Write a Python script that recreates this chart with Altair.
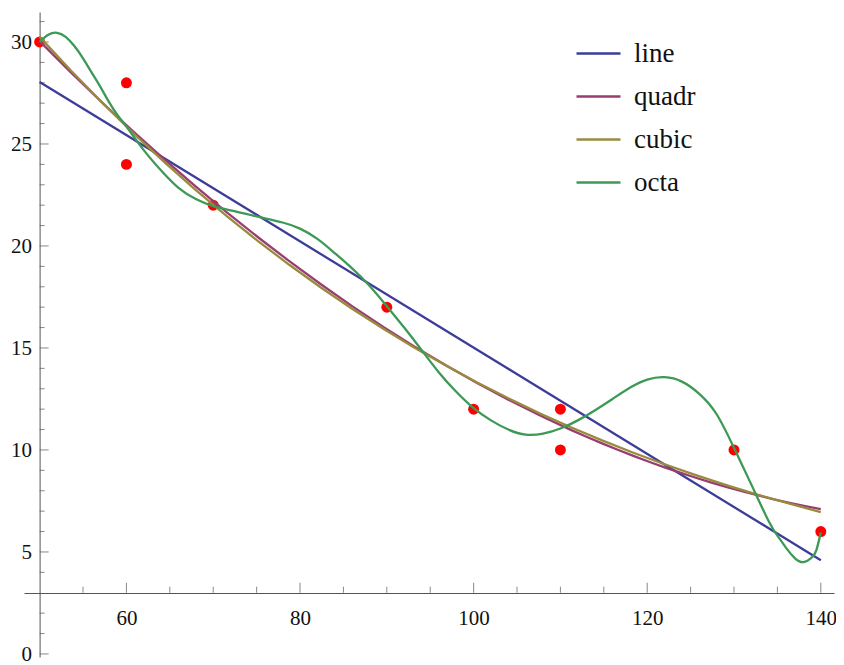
import altair as alt
import pandas as pd

# observed data points
xs = [50, 60, 60, 70, 90, 100, 110, 110, 130, 140]
ys = [30, 28, 24, 22, 17, 12, 12, 10, 10, 6]

# eighth-order fit
octa_x = [50, 51, 52, 53, 54, 55, 56, 57, 58, 59, 60, 62, 64, 66, 68, 70, 72, 75,
          78, 80, 82, 84, 86, 88, 90, 92, 94, 96, 98, 100, 102, 104, 106, 108,
          110, 112, 114, 116, 118, 120, 122, 124, 126, 128, 130, 132, 134, 135,
          136, 137, 138, 139, 139.5, 140]
octa_y = [30.0, 30.35, 30.45, 30.25, 29.8, 29.2, 28.5, 27.8, 27.05, 26.4, 25.85,
          24.7, 23.7, 22.85, 22.3, 21.95, 21.75, 21.45, 21.15, 20.85, 20.35, 19.65,
          18.9, 18.05, 17.05, 16.0, 14.9, 13.8, 12.85, 12.05, 11.45, 11.0, 10.75,
          10.8, 11.05, 11.45, 11.95, 12.5, 13.05, 13.45, 13.57, 13.35, 12.75, 11.75,
          10.1, 8.3, 6.5, 5.8, 5.2, 4.7, 4.5, 4.75, 5.1, 5.95]

series_names = ["line", "quadr", "cubic", "octa"]
series_colors = ["#3d3d99", "#993d71", "#998b3d", "#3d9956"]

x_major = [60, 80, 100, 120, 140]
x_minor = [55, 65, 70, 75, 85, 90, 95, 105, 110, 115, 125, 130, 135]
y_major = [0, 5, 10, 15, 20, 25, 30]
y_minor = [1, 2, 4, 6, 7, 8, 9, 11, 12, 13, 14, 16, 17, 18, 19,
           21, 22, 23, 24, 26, 27, 28, 29, 31]
axis_cross_y = 3
axis_cross_x = 50

FONT = "Liberation Serif, Times New Roman, DejaVu Serif, serif"
AX = "#555555"

pts = pd.DataFrame({"x": xs, "y": ys})
octa = pd.DataFrame({"x": octa_x, "y": octa_y, "series": "octa"})

xscale = alt.Scale(domain=[48.2, 141.52], nice=False, zero=False)
yscale = alt.Scale(domain=[-0.15, 31.47], nice=False, zero=False)

xaxis = alt.Axis(title=None, orient="bottom", offset=-64, ticks=False, tickSize=0,
                 values=x_major, labelFont=FONT, labelFontSize=21, labelColor="#111",
                 labelPadding=14, domainColor=AX, domainWidth=1, grid=False,
                 labelFlush=False)
yaxis = alt.Axis(title=None, orient="left", offset=-15.6, ticks=False, tickSize=0,
                 values=y_major, labelFont=FONT, labelFontSize=21, labelColor="#111",
                 labelPadding=8, labelOffset=1, domainColor=AX, domainWidth=1,
                 grid=False, labelFlush=False)

X = alt.X("x:Q", scale=xscale, axis=xaxis)
Y = alt.Y("y:Q", scale=yscale, axis=yaxis)

color_scale = alt.Scale(domain=series_names, range=series_colors)
legend = alt.Legend(title=None, orient="none", legendX=551, legendY=18,
                    direction="vertical", symbolType="stroke", symbolSize=1936,
                    symbolStrokeWidth=2.5, labelFont=FONT, labelFontSize=27,
                    labelColor="#111", labelOffset=12, rowPadding=6, padding=0)
C = alt.Color("series:N", scale=color_scale, legend=legend)

# tick layers
xmaj = alt.Chart(pd.DataFrame({"x": x_major, "y": axis_cross_y})).mark_tick(
    orient="vertical", size=10, thickness=1, yOffset=-5, color=AX).encode(x=X, y=Y)
xmin = alt.Chart(pd.DataFrame({"x": x_minor, "y": axis_cross_y})).mark_tick(
    orient="vertical", size=6, thickness=1, yOffset=-3, color=AX).encode(x=X, y=Y)
ymaj = alt.Chart(pd.DataFrame({"x": axis_cross_x, "y": y_major})).mark_tick(
    orient="horizontal", size=9, thickness=1, xOffset=4.5, color=AX).encode(x=X, y=Y)
ymin = alt.Chart(pd.DataFrame({"x": axis_cross_x, "y": y_minor})).mark_tick(
    orient="horizontal", size=5, thickness=1, xOffset=2.5, color=AX).encode(x=X, y=Y)

points = alt.Chart(pts).mark_circle(size=120, color="#ff0000", opacity=1).encode(x=X, y=Y)

base = alt.Chart(pts)
lin = base.transform_regression("x", "y", method="linear", extent=[50, 140]).transform_calculate(
    series="'line'").mark_line(strokeWidth=2.3).encode(x=X, y=Y, color=C)
quad = base.transform_regression("x", "y", method="poly", order=2, extent=[50, 140]).transform_calculate(
    series="'quadr'").mark_line(strokeWidth=2.3).encode(x=X, y=Y, color=C)
cub = base.transform_regression("x", "y", method="poly", order=3, extent=[50, 140]).transform_calculate(
    series="'cubic'").mark_line(strokeWidth=2.3).encode(x=X, y=Y, color=C)
oct_ = alt.Chart(octa).mark_line(strokeWidth=2.3, interpolate="natural").encode(
    x=X, y=Y, color=C, order="x:Q")

chart = alt.layer(xmaj, xmin, ymaj, ymin, points, lin, quad, cub, oct_).properties(
    width=810, height=645,
    autosize=alt.AutoSizeParams(type="none"),
    padding={"left": 16, "top": 4, "right": 2, "bottom": 14},
    background="white",
).configure_view(stroke=None)

chart.save("out.html", embed_options={"renderer": "svg", "actions": False})
